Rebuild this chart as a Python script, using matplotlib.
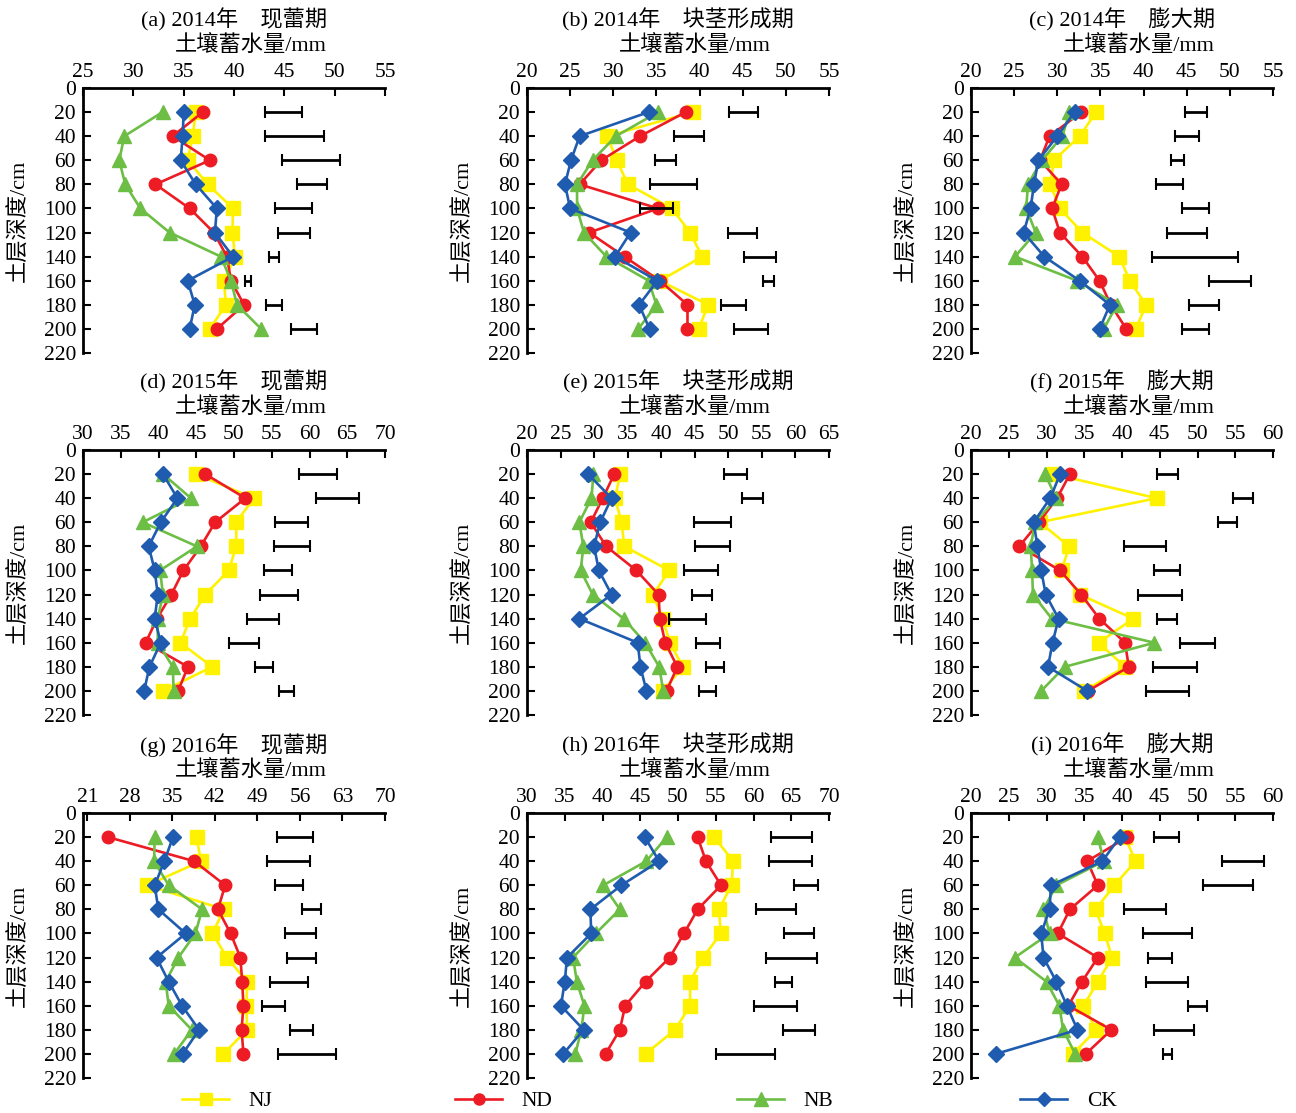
import matplotlib
matplotlib.use("Agg")
import matplotlib.pyplot as plt
from matplotlib.lines import Line2D
import numpy as np

plt.rcParams['font.family'] = ['Liberation Serif', 'Noto Sans CJK SC', 'DejaVu Sans']

depths = [20, 40, 60, 80, 100, 120, 140, 160, 180, 200]
depth_ticks = [0, 20, 40, 60, 80, 100, 120, 140, 160, 180, 200, 220]
series_names = ["NJ", "ND", "NB", "CK"]

titles = ["(a) 2014年　现蕾期", "(b) 2014年　块茎形成期", "(c) 2014年　膨大期",
          "(d) 2015年　现蕾期", "(e) 2015年　块茎形成期", "(f) 2015年　膨大期",
          "(g) 2016年　现蕾期", "(h) 2016年　块茎形成期", "(i) 2016年　膨大期"]
x_label = "土壤蓄水量/mm"
y_label = "土层深度/cm"

# x tick values per panel
xticks_a = [25, 30, 35, 40, 45, 50, 55]
xticks_b = [20, 25, 30, 35, 40, 45, 50, 55]
xticks_c = [20, 25, 30, 35, 40, 45, 50, 55]
xticks_d = [30, 35, 40, 45, 50, 55, 60, 65, 70]
xticks_e = [20, 25, 30, 35, 40, 45, 50, 55, 60, 65]
xticks_f = [20, 25, 30, 35, 40, 45, 50, 55, 60]
xticks_g = [21, 28, 35, 42, 49, 56, 63, 70]
xticks_h = [30, 35, 40, 45, 50, 55, 60, 65, 70]
xticks_i = [20, 25, 30, 35, 40, 45, 50, 55, 60]
xmin_g = 20.3

# (a) 2014 budding
nj_a = [36.2, 35.9, 35.4, 37.4, 39.9, 39.85, 40.1, 39.0, 39.2, 37.6]
nd_a = [36.9, 33.9, 37.6, 32.2, 35.6, 38.0, 39.3, 39.7, 41.0, 38.3]
nb_a = [32.9, 29.1, 28.6, 29.2, 30.7, 33.6, 38.7, 39.7, 40.3, 42.7]
ck_a = [35.0, 34.9, 34.7, 36.2, 38.3, 38.1, 39.9, 35.4, 36.1, 35.6]
lo_a = [43.1, 43.1, 44.8, 46.3, 44.1, 44.4, 43.5, 41.1, 43.2, 45.7]
hi_a = [46.8, 48.9, 50.5, 49.2, 47.7, 47.5, 44.5, 41.7, 44.8, 48.2]

# (b) 2014 tuber formation
nj_b = [39.2, 29.3, 30.4, 31.7, 36.8, 38.9, 40.3, 35.4, 41.0, 39.9]
nd_b = [38.4, 33.1, 28.6, 26.1, 35.2, 27.2, 31.3, 35.4, 38.6, 38.6]
nb_b = [35.2, 30.3, 27.6, 25.8, 25.8, 26.6, 29.2, 34.1, 35.0, 32.9]
ck_b = [34.1, 26.1, 25.1, 24.4, 25.0, 32.0, 30.2, 35.1, 33.0, 34.2]
lo_b = [43.4, 37.0, 34.8, 34.2, 33.1, 43.3, 45.2, 47.4, 42.5, 44.0]
hi_b = [46.8, 40.5, 37.3, 39.7, 36.9, 46.6, 48.8, 48.6, 45.4, 47.9]

# (c) 2014 bulking
nj_c = [34.5, 32.6, 29.6, 29.2, 30.3, 32.9, 37.2, 38.4, 40.3, 39.1]
nd_c = [32.8, 29.1, 28.0, 30.5, 29.4, 30.3, 32.9, 34.9, 36.2, 38.0]
nb_c = [31.4, 30.6, 28.2, 26.6, 26.4, 27.5, 25.1, 32.3, 36.9, 35.4]
ck_c = [32.0, 30.0, 27.8, 27.3, 26.9, 26.1, 28.5, 32.6, 36.1, 34.9]
lo_c = [44.8, 43.6, 43.2, 41.4, 44.4, 42.7, 41.0, 47.6, 45.3, 44.4]
hi_c = [47.3, 46.4, 44.7, 44.6, 47.6, 47.3, 50.9, 52.5, 48.7, 47.6]

# (d) 2015 budding
nj_d = [45.0, 52.6, 50.3, 50.3, 49.3, 46.2, 44.2, 42.9, 47.1, 40.6]
nd_d = [46.2, 51.5, 47.5, 45.6, 43.3, 41.7, 39.8, 38.3, 43.9, 42.6]
nb_d = [40.6, 44.3, 37.9, 45.1, 40.2, 40.6, 39.9, 39.9, 41.9, 42.0]
ck_d = [40.6, 42.5, 40.3, 38.7, 39.5, 39.9, 39.5, 40.3, 38.8, 38.1]
lo_d = [58.6, 60.9, 55.4, 55.3, 54.0, 53.4, 51.7, 49.4, 52.8, 56.0]
hi_d = [63.6, 66.5, 59.8, 60.1, 57.7, 58.5, 56.0, 53.3, 55.1, 57.9]

# (e) 2015 tuber formation
nj_e = [33.9, 33.1, 34.1, 34.5, 41.2, 38.8, 40.2, 41.3, 43.2, 40.3]
nd_e = [33.0, 31.3, 29.5, 31.8, 36.3, 39.6, 39.8, 40.6, 42.4, 40.8]
nb_e = [29.9, 29.6, 27.8, 28.4, 28.0, 29.8, 34.4, 37.6, 39.7, 40.3]
ck_e = [29.1, 32.6, 30.9, 30.0, 30.7, 32.6, 27.8, 36.5, 36.9, 37.8]
lo_e = [49.3, 52.1, 44.9, 45.1, 43.4, 44.6, 41.2, 45.2, 46.6, 45.7]
hi_e = [52.8, 55.2, 50.4, 50.3, 48.4, 47.5, 46.6, 48.7, 49.4, 48.2]

# (f) 2015 bulking
nj_f = [30.9, 44.6, 29.1, 33.0, 32.0, 34.4, 41.5, 36.9, 40.4, 35.0]
nd_f = [33.1, 31.4, 29.0, 26.4, 31.8, 34.6, 37.0, 40.4, 40.9, 35.5]
nb_f = [29.8, 31.3, 28.5, 27.9, 28.1, 28.2, 30.7, 44.3, 32.4, 29.3]
ck_f = [31.8, 30.5, 28.3, 28.8, 29.3, 29.9, 31.6, 30.8, 30.2, 35.4]
lo_f = [44.6, 54.7, 52.7, 40.2, 44.2, 42.1, 44.7, 47.7, 44.1, 43.2]
hi_f = [47.4, 57.4, 55.2, 45.8, 47.7, 47.9, 47.3, 52.3, 49.9, 48.9]

# (g) 2016 budding
nj_g = [39.0, 39.7, 30.9, 43.5, 41.6, 44.0, 47.3, 47.2, 47.3, 43.4]
nd_g = [24.4, 38.6, 43.7, 42.5, 44.6, 46.2, 46.5, 46.7, 46.4, 46.7]
nb_g = [32.1, 32.0, 34.4, 39.9, 38.8, 36.0, 33.9, 34.4, 38.2, 35.3]
ck_g = [35.1, 33.7, 32.1, 32.7, 37.2, 32.4, 34.4, 36.6, 39.4, 36.7]
lo_g = [52.3, 50.6, 51.9, 56.4, 53.5, 53.8, 51.0, 49.8, 54.3, 52.4]
hi_g = [58.2, 57.6, 56.5, 59.5, 58.6, 58.6, 57.3, 53.5, 58.2, 61.9]

# (h) 2016 tuber formation
nj_h = [54.8, 57.3, 57.1, 55.4, 55.7, 53.3, 51.6, 51.6, 49.6, 45.7]
nd_h = [52.6, 53.7, 55.7, 52.6, 50.8, 48.9, 45.7, 43.0, 42.3, 40.4]
nb_h = [48.5, 45.8, 40.1, 42.3, 39.1, 36.1, 36.6, 37.6, 37.2, 36.4]
ck_h = [45.6, 47.5, 42.5, 38.4, 38.5, 35.3, 35.0, 34.5, 37.5, 34.8]
lo_h = [62.3, 62.1, 65.4, 60.3, 64.0, 61.6, 62.8, 60.1, 63.9, 55.0]
hi_h = [67.7, 67.8, 68.6, 65.6, 68.0, 68.4, 65.1, 65.7, 68.1, 62.8]

# (i) 2016 bulking
nj_i = [40.4, 41.8, 39.0, 36.5, 37.7, 38.7, 36.8, 34.9, 36.6, 33.5]
nd_i = [40.7, 35.4, 36.8, 33.1, 31.5, 36.8, 34.7, 32.9, 38.6, 35.2]
nb_i = [36.8, 37.6, 31.3, 29.6, 30.4, 25.8, 30.0, 31.7, 32.2, 33.8]
ck_i = [39.7, 37.4, 30.6, 30.4, 29.3, 29.6, 31.3, 32.7, 34.1, 23.3]
lo_i = [44.3, 53.3, 50.7, 40.2, 42.8, 43.4, 43.2, 48.8, 44.3, 45.4]
hi_i = [47.6, 58.8, 57.3, 45.8, 49.3, 46.6, 48.8, 51.2, 49.6, 46.6]

panels = [
    (xticks_a, [nj_a, nd_a, nb_a, ck_a], lo_a, hi_a),
    (xticks_b, [nj_b, nd_b, nb_b, ck_b], lo_b, hi_b),
    (xticks_c, [nj_c, nd_c, nb_c, ck_c], lo_c, hi_c),
    (xticks_d, [nj_d, nd_d, nb_d, ck_d], lo_d, hi_d),
    (xticks_e, [nj_e, nd_e, nb_e, ck_e], lo_e, hi_e),
    (xticks_f, [nj_f, nd_f, nb_f, ck_f], lo_f, hi_f),
    (xticks_g, [nj_g, nd_g, nb_g, ck_g], lo_g, hi_g),
    (xticks_h, [nj_h, nd_h, nb_h, ck_h], lo_h, hi_h),
    (xticks_i, [nj_i, nd_i, nb_i, ck_i], lo_i, hi_i),
]

colors = ["#FFF200", "#ED1C24", "#6DBE45", "#1F5CAF"]
markers = ["s", "o", "^", "D"]
msizes = [9.5, 9, 10.5, 8]

W, H = 1296, 1113
fig = plt.figure(figsize=(W / 100, H / 100), dpi=100)

col_left = [83, 527, 971]
row_top = [88, 450, 813]
ax_w, ax_h = 302, 265
fs = 15.5
fs_cn = 16

for k, (xt, vals, lo, hi) in enumerate(panels):
    r, c = divmod(k, 3)
    left = col_left[c] / W
    bottom = (H - row_top[r] - ax_h) / H
    ax = fig.add_axes([left, bottom, ax_w / W, ax_h / H])
    for v, col, m, ms in zip(vals, colors, markers, msizes):
        ax.plot(v, depths, color=col, marker=m, markersize=ms, linewidth=1.9,
                markeredgecolor=col, zorder=3)
    lo_arr = np.array(lo)
    hi_arr = np.array(hi)
    ax.errorbar((lo_arr + hi_arr) / 2, depths, xerr=(hi_arr - lo_arr) / 2,
                fmt='none', ecolor='black', elinewidth=2.0, capsize=4,
                capthick=1.5, zorder=4)
    xmin = xmin_g if k == 6 else xt[0]
    ax.set_xlim(xmin, xt[-1])
    ax.set_xticks(xt)
    ax.set_xticklabels([str(t) for t in xt])
    ax.set_ylim(220, 0)
    ax.set_yticks(depth_ticks)
    ax.set_yticklabels([str(t) for t in depth_ticks])
    ax.xaxis.tick_top()
    ax.spines['right'].set_visible(False)
    ax.spines['bottom'].set_visible(False)
    ax.spines['left'].set_linewidth(2.0)
    ax.spines['top'].set_linewidth(2.0)
    ax.tick_params(axis='x', direction='in', length=6, width=1.5, pad=4,
                   labelsize=fs, top=True, bottom=False)
    ax.tick_params(axis='y', direction='in', length=6, width=1.5, pad=5,
                   labelsize=fs, left=True, right=False)
    ax.text(0.5, 1 + 68 / ax_h, titles[k], transform=ax.transAxes,
            ha='center', va='center', fontsize=fs_cn)
    ax.text(0.555, 1 + 43 / ax_h, x_label, transform=ax.transAxes,
            ha='center', va='center', fontsize=fs_cn)
    ax.text(-64 / ax_w, 0.5, y_label, transform=ax.transAxes, rotation=90,
            ha='center', va='center', fontsize=fs_cn)

leg_x = [182, 455, 737, 1020]
for name, col, m, ms, lx in zip(series_names, colors, markers, msizes, leg_x):
    h = Line2D([], [], color=col, marker=m, markersize=ms - 1, linewidth=1.9,
               markeredgecolor=col)
    fig.legend([h], [name], loc='center left',
               bbox_to_anchor=(lx / W, (H - 1101) / H), frameon=False,
               fontsize=fs, handlelength=2.2, handletextpad=0.9,
               borderpad=0, borderaxespad=0)

fig.savefig("out.png", dpi=100)
